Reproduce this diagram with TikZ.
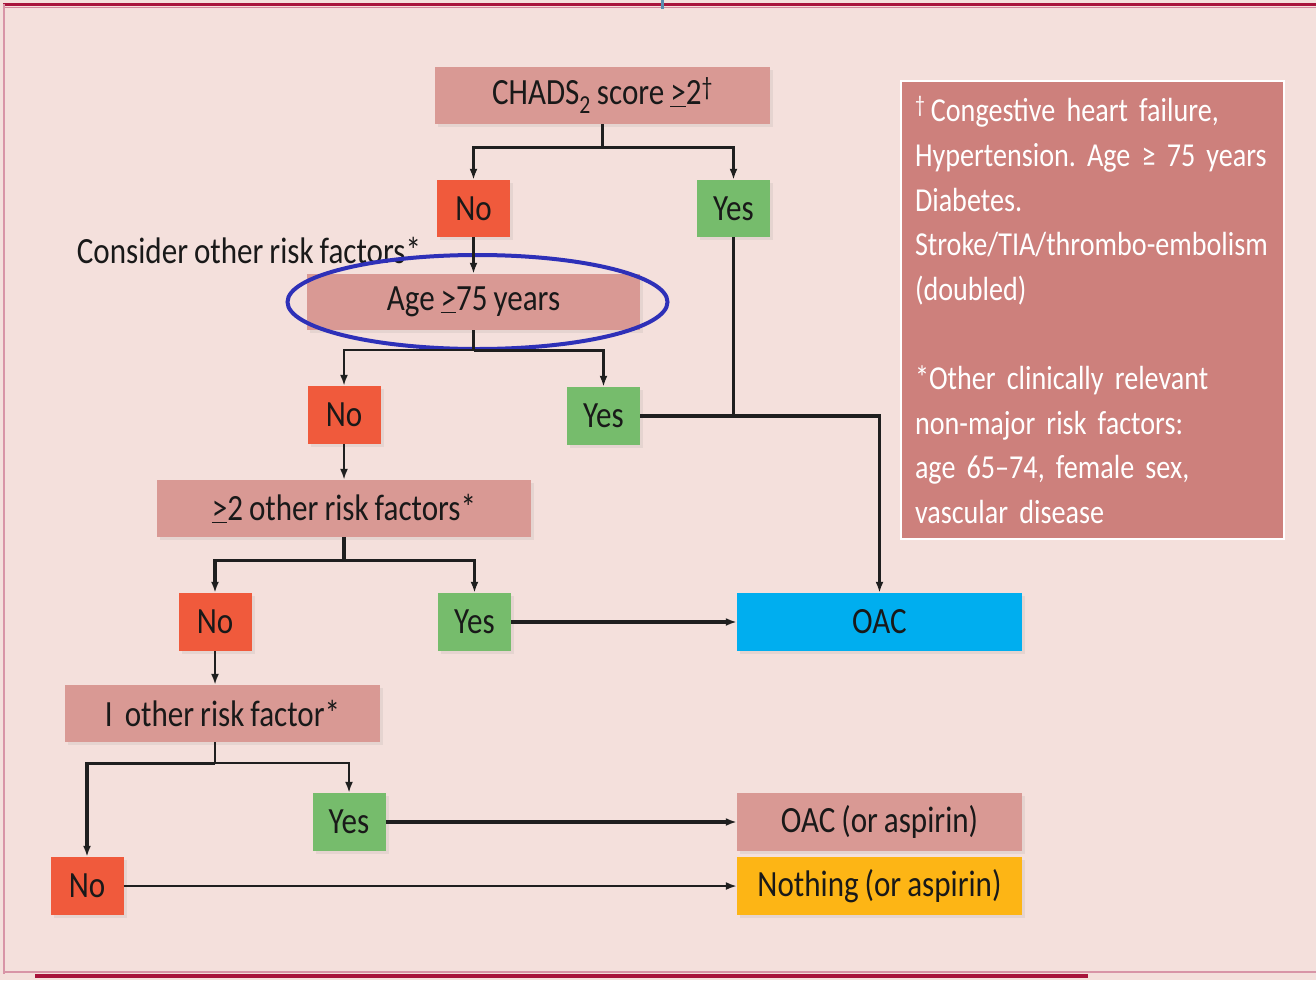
\documentclass[tikz,border=0pt]{standalone}
\usepackage{fontspec}
\setmainfont{Carlito}[FakeStretch=0.84, WordSpace=0.85]
\frenchspacing
\usetikzlibrary{arrows.meta,shadows}
\definecolor{bgpink}{HTML}{F4E0DC}
\definecolor{decide}{HTML}{D99994}
\definecolor{notefill}{HTML}{CD807C}
\definecolor{nored}{HTML}{F05A3C}
\definecolor{yesgreen}{HTML}{76BC6C}
\definecolor{oaccyan}{HTML}{00AEEF}
\definecolor{nothingorange}{HTML}{FDB515}
\definecolor{crimson}{HTML}{A8143C}
\definecolor{ringblue}{HTML}{2E30B8}
\definecolor{tickblue}{HTML}{5A8DB0}
\tikzset{
  box/.style={rectangle, inner sep=0, minimum height=57, text=black!90,
    font=\fontsize{37}{42}\selectfont,
    drop shadow={shadow xshift=3pt, shadow yshift=-3pt, opacity=0.12}},
  question/.style={box, fill=decide},
  nobox/.style={box, fill=nored, minimum width=73},
  yesbox/.style={box, fill=yesgreen, minimum width=73},
  conn/.style={line width=3.2, draw=black!88},
  thinconn/.style={line width=2, draw=black!88},
  tip/.style={-{Latex[length=11pt,width=8pt]}},
}
\begin{document}
\begin{tikzpicture}[x=1pt,y=-1pt]
\useasboundingbox (0,0) rectangle (1316,980);
\fill[bgpink] (0,0) rectangle (1316,980);
% frame
\draw[crimson, line width=3] (3,4) -- (1316,4);
\draw[crimson!50, line width=1] (3,7) -- (1316,7);
\draw[crimson!45, line width=1.2] (4,4) -- (4,974);
\draw[crimson!45, line width=1.2] (4,972) -- (1316,972);
\draw[crimson, line width=4] (35,976) -- (1088,976);
\draw[tickblue, line width=3] (662,0) -- (662,9);

% nodes
\node[question, minimum width=335] (chads) at (602.5,95.5) {CHADS\textsubscript{2} score \underline{>}2\textsuperscript{†}};
\node[nobox] (no1) at (473.5,208.5) {No};
\node[yesbox] (yes1) at (733.5,208.5) {Yes};
\node[font=\fontsize{37}{42}\selectfont, text=black!90, inner sep=0] (consider) at (249,250) {Consider other risk factors*};
\node[question, minimum width=333, minimum height=56] (age) at (473.5,302) {Age \underline{>}75 years};
\node[nobox, minimum height=58] (no2) at (344,415) {No};
\node[yesbox, minimum height=58] (yes2) at (603.5,416) {Yes};
\node[question, minimum width=374] (two) at (344,508.5) {\underline{>}2 other risk factors*};
\node[nobox, minimum height=58] (no3) at (215,622) {No};
\node[yesbox, minimum height=58] (yes3) at (474.5,622) {Yes};
\node[box, fill=oaccyan, minimum width=285, minimum height=58] (oac) at (879.5,622) {OAC};
\node[question, minimum width=315] (one) at (222.5,713.5) {I\, other risk factor*};
\node[yesbox, minimum height=58] (yes4) at (349,822) {Yes};
\node[nobox, minimum height=58] (no4) at (87,886) {No};
\node[question, minimum width=285, minimum height=58] (oacasp) at (879.5,822) {OAC (or aspirin)};
\node[box, fill=nothingorange, minimum width=285, minimum height=58] (nothing) at (879.5,886) {Nothing (or aspirin)};

\node[rectangle, fill=notefill, draw=white, line width=2, anchor=north west,
  minimum width=383, minimum height=458, text width=355, inner xsep=14, inner ysep=0,
  align=left, text=white, font=\fontsize{33.5}{44.6}\selectfont] (note) at (900,80)
  {\textsuperscript{†}\,Congestive heart failure,\\
   Hypertension. Age ≥ 75 years\\
   Diabetes.\\
   Stroke/TIA/thrombo-embolism\\
   (doubled)\\[44.6pt]
   *Other clinically relevant\\
   non-major risk factors:\\
   age 65–74, female sex,\\
   vascular disease};

% highlight ring
\draw[ringblue, line width=4] (477.5,302) ellipse [x radius=190, y radius=47];

% connectors
\draw[conn] (chads.south) -- ++(0,23) coordinate (j1);
\draw[conn, tip] (j1) -| (no1.north);
\draw[conn, tip] (j1) -| (yes1.north);
\draw[conn, tip] (no1.south) -- (age.north -| no1.south);
\draw[conn] (age.south -| no1.south) -- ++(0,20) coordinate (j2);
\draw[thinconn, tip] (j2) -| (no2.north);
\draw[conn, tip] (j2) -| (yes2.north);
\draw[conn] (yes1.south) -- (yes1.south |- yes2.east);
\draw[conn, tip] (yes2.east) -| (oac.north);
\draw[thinconn, tip] (no2.south) -- (two.north -| no2.south);
\draw[conn] (two.south -| no2.south) -- ++(0,23) coordinate (j3);
\draw[conn, tip] (j3) -| (no3.north);
\draw[conn, tip] (j3) -| (yes3.north);
\draw[conn, tip] (yes3.east) -- (oac.west);
\draw[thinconn, tip] (no3.south) -- (one.north -| no3.south);
\draw[thinconn] (one.south -| no3.south) -- ++(0,21) coordinate (j4);
\draw[conn, tip] (j4) -| (no4.north);
\draw[thinconn, tip] (j4) -| (yes4.north);
\draw[conn, tip] (yes4.east) -- (oacasp.west);
\draw[thinconn, tip] (no4.east) -- (nothing.west);
\end{tikzpicture}
\end{document}
